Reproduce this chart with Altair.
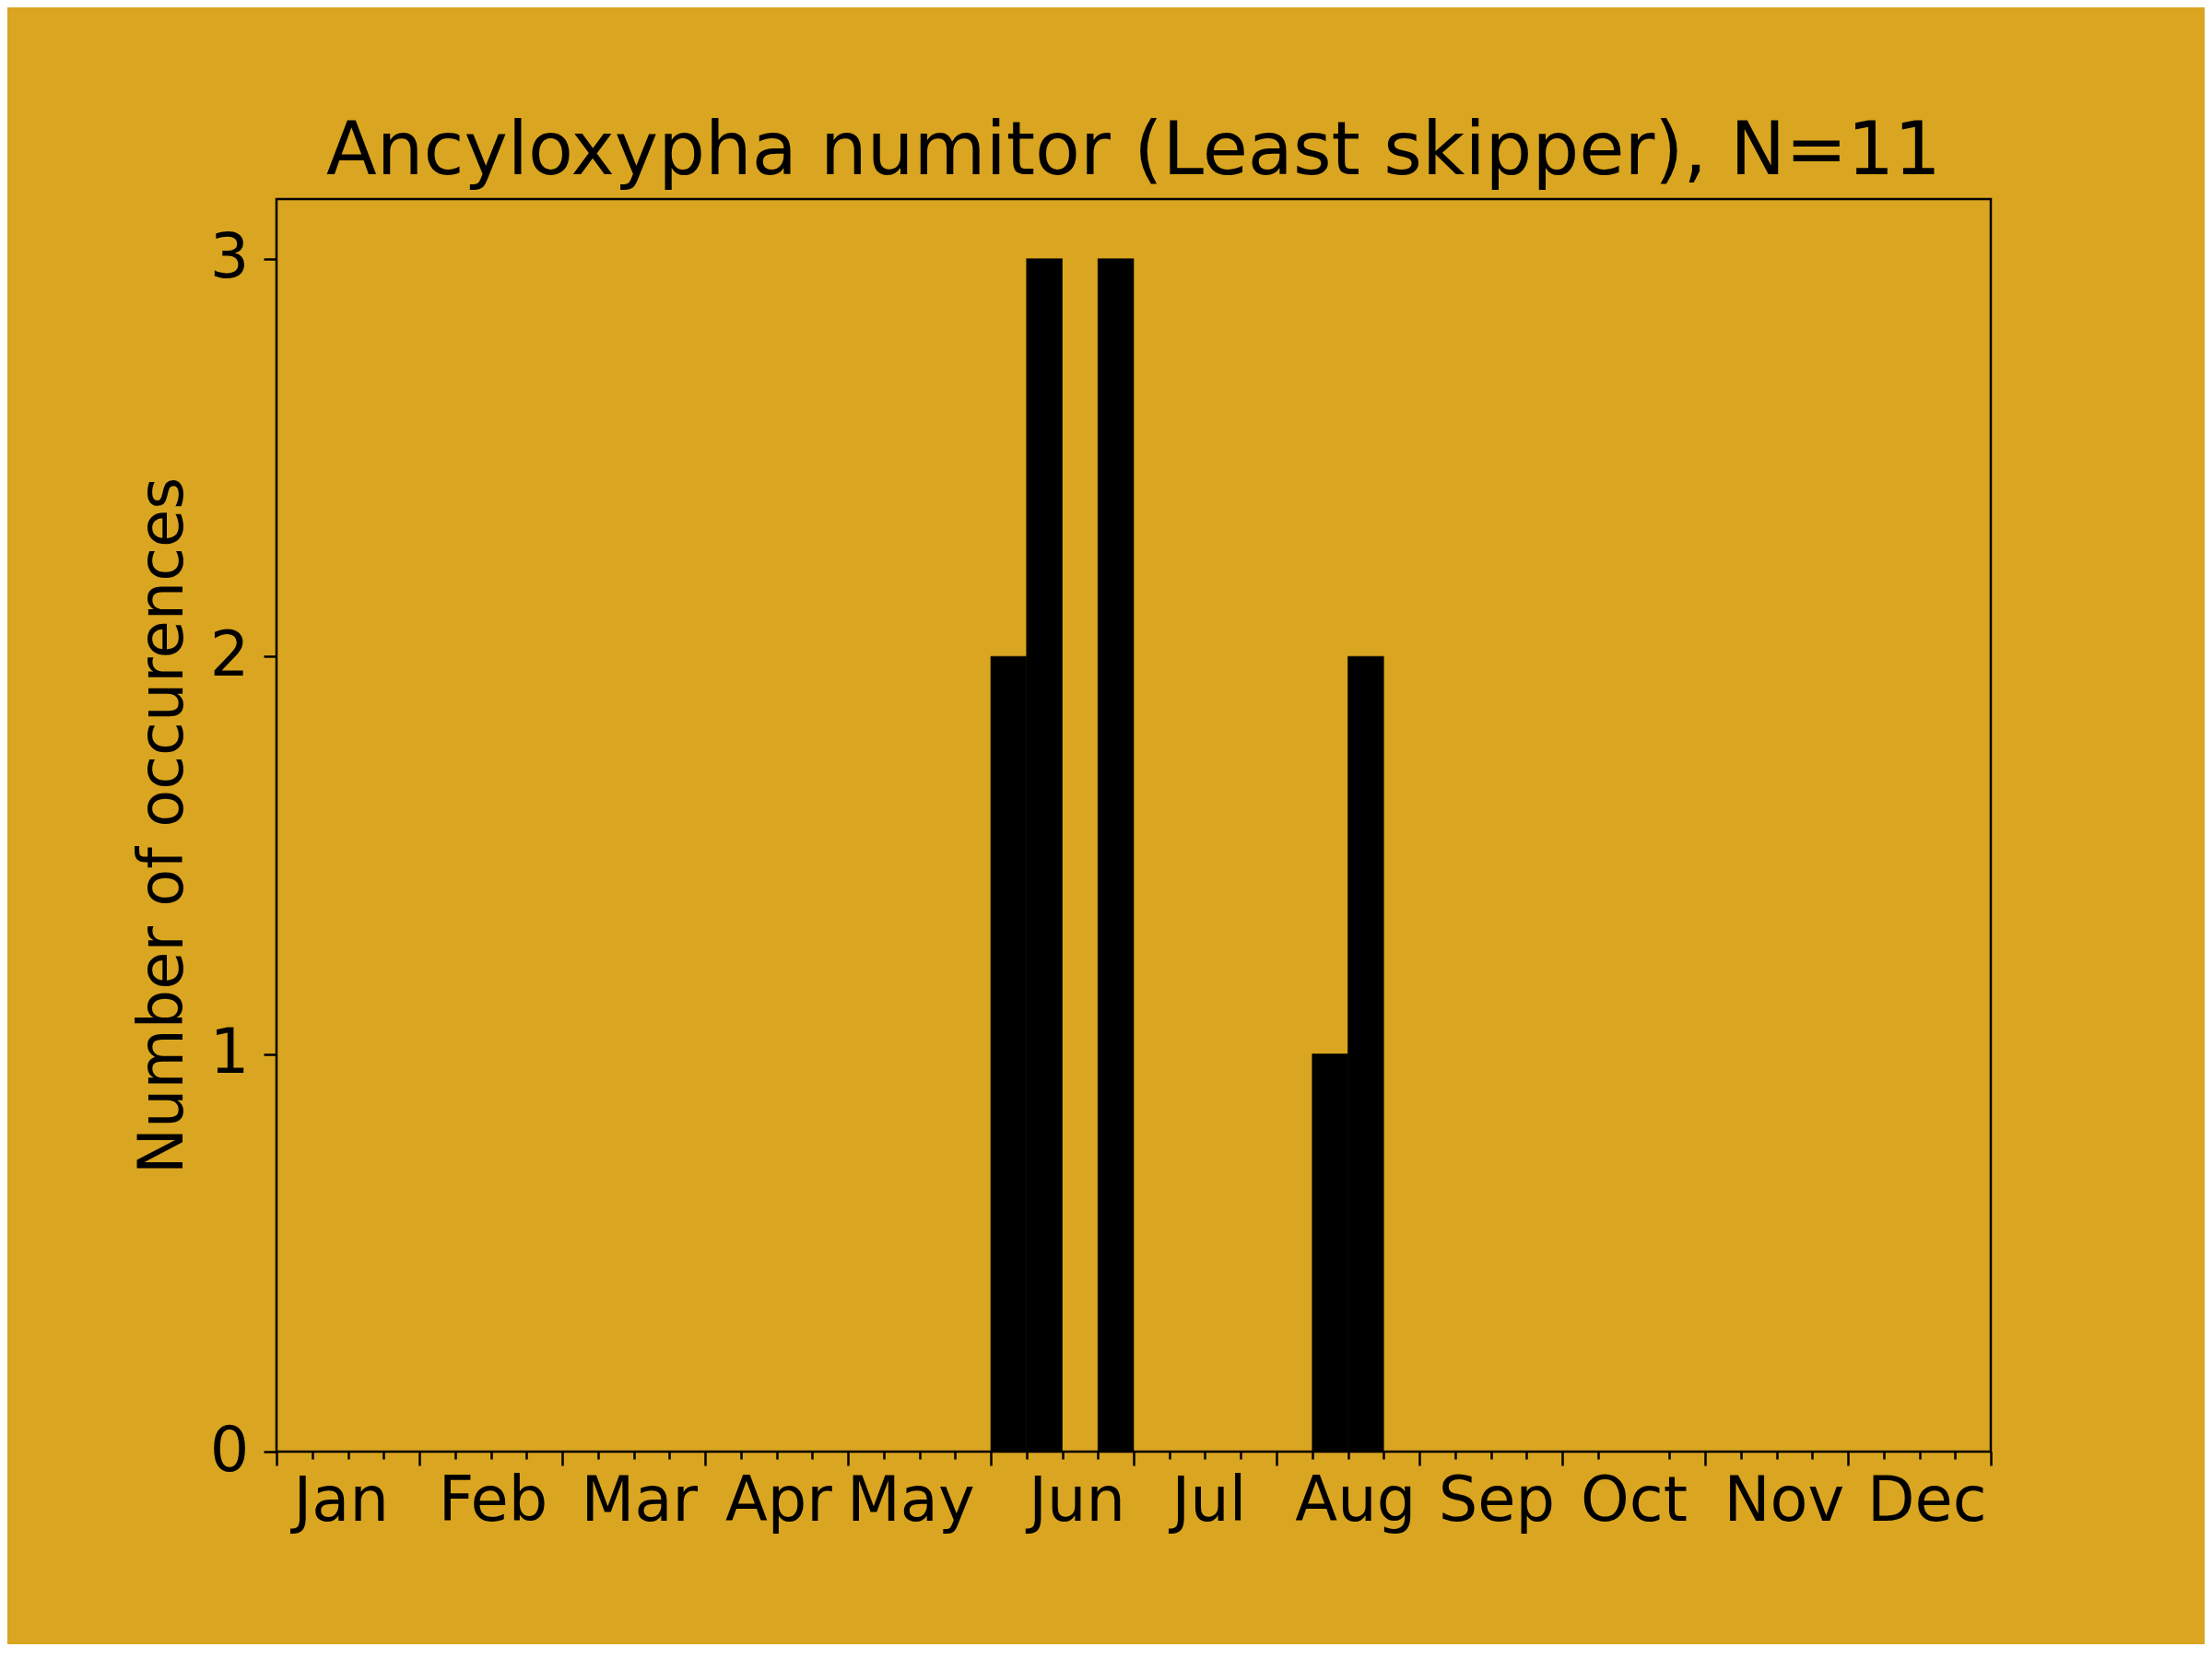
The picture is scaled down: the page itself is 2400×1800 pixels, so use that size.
import altair as alt
import pandas as pd

# Data: 48 bins (4 per month), counts per bin
months = ["Jan", "Feb", "Mar", "Apr", "May", "Jun",
          "Jul", "Aug", "Sep", "Oct", "Nov", "Dec"]
# positions of the month labels, in bin units
label_pos = [1.8, 6.05, 10.15, 14.05, 17.75, 22.4,
             26.1, 30.2, 34.15, 38.0, 42.2, 46.2]
counts = [0, 0, 0, 0,  0, 0, 0, 0,  0, 0, 0, 0,  0, 0, 0, 0,
          0, 0, 0, 0,  2, 3, 0, 3,  0, 0, 0, 0,  0, 1, 2, 0,
          0, 0, 0, 0,  0, 0, 0, 0,  0, 0, 0, 0,  0, 0, 0, 0]
bin_start = list(range(48))
bin_end = [b + 1 for b in bin_start]
y_ticks = [0, 1, 2, 3]
x_ticks = list(range(49))

df = pd.DataFrame({"start": bin_start, "end": bin_end, "count": counts})

BG = "#DAA520"
FONT = "DejaVu Sans"

month_arr = "[" + ",".join("'" + m + "'" for m in months) + "]"
pos_arr = "[" + ",".join(str(p) for p in label_pos) + "]"
label_expr = (f"indexof({pos_arr}, datum.value) >= 0 ? "
              f"{month_arr}[indexof({pos_arr}, datum.value)] : ''")

x_axis = alt.Axis(
    values=sorted(x_ticks + label_pos),
    labelExpr=label_expr,
    tickSize={"condition": {"test": "datum.value % 4 == 0", "value": 15}, "value": 8},
    tickOpacity={"condition": {"test": f"indexof({pos_arr}, datum.value) >= 0", "value": 0}, "value": 1},
    tickWidth=2.5,
    tickColor="black",
    labelFont=FONT,
    labelFontSize=67,
    labelColor="black",
    labelPadding=13,
    labelBaseline="top",
    labelFlush=False,
    labelOverlap=False,
    domain=False,
    grid=False,
    title=None,
)

y_axis = alt.Axis(
    values=y_ticks,
    tickSize=14,
    tickWidth=2.5,
    tickColor="black",
    labelFont=FONT,
    labelFontSize=67,
    labelColor="black",
    labelPadding=16,
    labelFlush=False,
    domain=False,
    grid=False,
    title="Number of occurences",
    titleFont=FONT,
    titleFontSize=67,
    titleFontWeight="normal",
    titleColor="black",
    titlePadding=16,
)

chart = (
    alt.Chart(df)
    .transform_filter("datum.count > 0")
    .mark_rect(color="black", stroke="black", strokeWidth=0.6)
    .encode(
        x=alt.X("start:Q", scale=alt.Scale(domain=[0, 48], nice=False, zero=False), axis=x_axis),
        x2="end:Q",
        y=alt.Y("count:Q", scale=alt.Scale(domain=[0, 3.15], nice=False), axis=y_axis),
        y2=alt.datum(0),
    )
    .properties(
        width=1860,
        height=1359,
        autosize="none",
        padding={"left": 292, "top": 208, "right": 232, "bottom": 209},
        title=alt.TitleParams(
            "Ancyloxypha numitor (Least skipper), N=11",
            font=FONT,
            fontSize=80,
            fontWeight="normal",
            color="black",
            anchor="middle",
            baseline="alphabetic",
            offset=-53,
        ),
    )
    .configure(background=BG)
    .configure_view(fill=BG, stroke="black", strokeWidth=2.5)
)

chart.save("out.html", embed_options={"renderer": "svg", "actions": False})
